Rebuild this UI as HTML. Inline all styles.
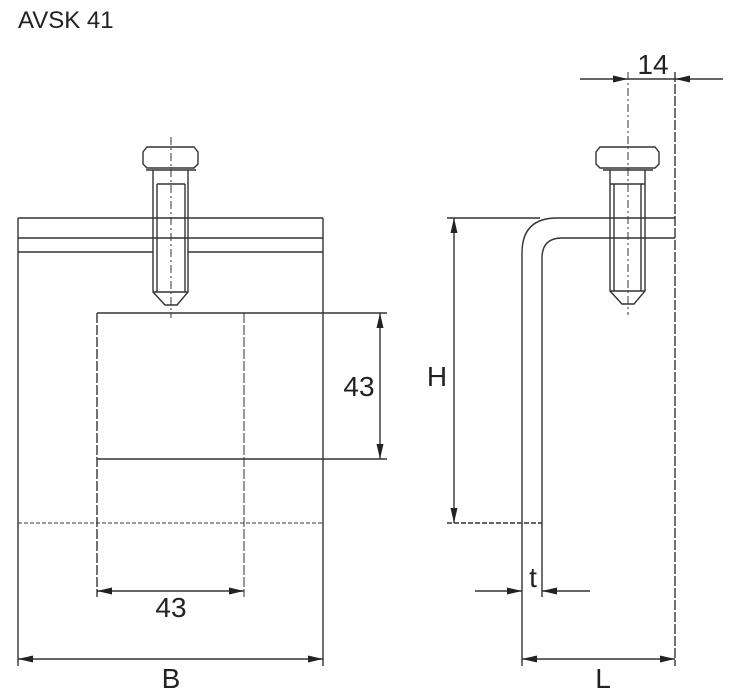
<!DOCTYPE html>
<html><head><style>html,body{margin:0;padding:0;background:#fff;width:730px;height:699px;overflow:hidden}</style></head>
<body>
<svg width="730" height="699" viewBox="0 0 730 699" xmlns="http://www.w3.org/2000/svg" font-family="Liberation Sans, sans-serif">
<defs>
<marker id="a" viewBox="0 0 15 7" refX="15" refY="3.5" markerWidth="15" markerHeight="7" orient="auto" markerUnits="userSpaceOnUse"><path d="M0,0L15,3.5L0,7z" fill="#222"/></marker>
</defs>
<text x="18" y="28" font-size="24" fill="#222">AVSK 41</text>
<g stroke="#333" stroke-width="1.4" fill="none">
<!-- left view -->
<line x1="18" y1="218" x2="18" y2="666"/>
<line x1="323" y1="218" x2="323" y2="666"/>
<line x1="18" y1="218" x2="323" y2="218"/>
<line x1="18" y1="238" x2="323" y2="238"/>
<line x1="18" y1="252" x2="153" y2="252"/>
<line x1="188" y1="252" x2="323" y2="252"/>
<path d="M147,147 L194,147 L198,152 L198,164 L194,168 L147,168 L143,164 L143,152Z"/>
<line x1="146" y1="170" x2="196" y2="170"/>
<path d="M153,170 V292 L165,305 H177 L188,292 V170"/>
<line x1="157" y1="184" x2="157" y2="292"/>
<line x1="185" y1="184" x2="185" y2="292"/>
<line x1="157" y1="184" x2="185" y2="184"/>
<line x1="153" y1="292" x2="188" y2="292"/>
<line x1="171" y1="137" x2="171" y2="318" stroke-dasharray="8,3,2,3" stroke-width="1"/>
<line x1="97" y1="313" x2="387" y2="313"/>
<line x1="97" y1="459" x2="387" y2="459"/>
<line x1="18" y1="523" x2="323" y2="523" stroke-dasharray="4,2" stroke-width="1"/>
<line x1="97" y1="313" x2="97" y2="597" stroke-dasharray="10,2"/>
<line x1="244" y1="313" x2="244" y2="597" stroke-dasharray="10,2" stroke-width="1"/>
<line x1="380" y1="336" x2="380" y2="313" marker-end="url(#a)"/>
<line x1="380" y1="436" x2="380" y2="459" marker-end="url(#a)"/>
<line x1="380" y1="336" x2="380" y2="436"/>
<line x1="170" y1="591" x2="97" y2="591" marker-end="url(#a)"/>
<line x1="170" y1="591" x2="244" y2="591" marker-end="url(#a)"/>
<line x1="170" y1="659" x2="18" y2="659" marker-end="url(#a)"/>
<line x1="170" y1="659" x2="323" y2="659" marker-end="url(#a)"/>
<!-- right view -->
<path d="M522,666 V253 Q522,218 557,218 H675"/>
<path d="M542,597 V258 Q542,238 562,238 H675"/>
<line x1="675" y1="72" x2="675" y2="666" stroke-dasharray="10,2"/>
<path d="M600,147 L655,147 L659,152 L659,164 L655,168 L600,168 L596,164 L596,152Z"/>
<line x1="603" y1="170" x2="653" y2="170"/>
<path d="M610,170 V291 L622,304 H634 L645,291 V170"/>
<line x1="614" y1="184" x2="614" y2="291"/>
<line x1="641" y1="184" x2="641" y2="291"/>
<line x1="610" y1="184" x2="645" y2="184"/>
<line x1="610" y1="291" x2="645" y2="291"/>
<line x1="628" y1="72" x2="628" y2="315" stroke-dasharray="8,3,2,3" stroke-width="1"/>
<line x1="580" y1="79" x2="628" y2="79" marker-end="url(#a)"/>
<line x1="723" y1="79" x2="675" y2="79" marker-end="url(#a)"/>
<line x1="628" y1="79" x2="675" y2="79"/>
<line x1="447" y1="218" x2="540" y2="218"/>
<line x1="447" y1="523" x2="542" y2="523" stroke-dasharray="5,2"/>
<line x1="454" y1="370" x2="454" y2="218" marker-end="url(#a)"/>
<line x1="454" y1="370" x2="454" y2="523" marker-end="url(#a)"/>
<line x1="475" y1="591" x2="522" y2="591" marker-end="url(#a)"/>
<line x1="590" y1="591" x2="542" y2="591" marker-end="url(#a)"/>
<line x1="600" y1="659" x2="522" y2="659" marker-end="url(#a)"/>
<line x1="600" y1="659" x2="675" y2="659" marker-end="url(#a)"/>
</g>
<g font-size="28" fill="#222" text-anchor="middle">
<text x="359" y="396">43</text>
<text x="171" y="617">43</text>
<text x="171" y="688">B</text>
<text x="653" y="74">14</text>
<text x="437" y="386">H</text>
<text x="533" y="587">t</text>
<text x="603" y="688">L</text>
</g>
</svg>
</body></html>
